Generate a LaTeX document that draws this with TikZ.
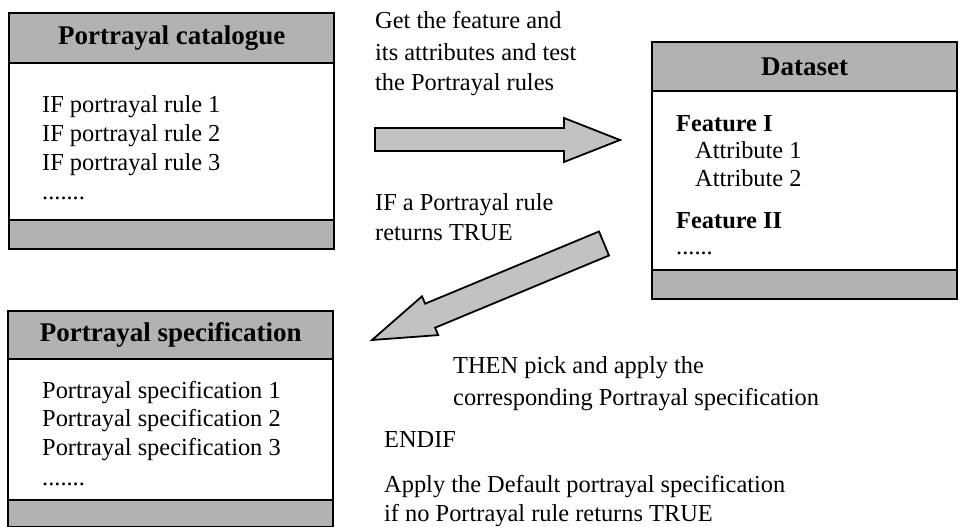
\documentclass[tikz,border=0pt]{standalone}
\usepackage{fontspec}
\setmainfont{Liberation Serif}
\definecolor{hdrgray}{gray}{0.70}
\definecolor{arrgray}{gray}{0.76}
\begin{document}
\begin{tikzpicture}[x=1pt,y=-1pt,
  body/.style={draw=black, line width=2.4pt, fill=white, inner sep=0pt, anchor=north west},
  hdr/.style={draw=black, line width=2.4pt, fill=hdrgray, inner sep=0pt, anchor=north west,
              font=\fontsize{27}{30}\selectfont\bfseries},
  band/.style={draw=black, line width=2.4pt, fill=hdrgray, inner sep=0pt, anchor=north west},
  txt/.style={inner sep=0pt, anchor=base west, font=\fontsize{24.4}{29}\selectfont},
  btxt/.style={inner sep=0pt, anchor=base west, font=\fontsize{24.4}{29}\selectfont\bfseries},
  blockarrow/.style={draw=black, line width=1.8pt, fill=arrgray, line join=miter}]
\useasboundingbox (0,0) rectangle (964,527);

% Portrayal catalogue
\node[body, minimum width=325pt, minimum height=236pt] (cat) at (8,12) {};
\node[hdr, minimum width=325pt, minimum height=50pt] (cath) at (8,12) {Portrayal catalogue};
\node[band, minimum width=325pt, minimum height=29pt] (catb) at (8,219) {};
\node[txt] (c1) at (42,112) {IF portrayal rule 1};
\node[txt] (c2) at (42,141) {IF portrayal rule 2};
\node[txt] (c3) at (42,170) {IF portrayal rule 3};
\node[txt] (c4) at (42,199) {.......};

% Dataset
\node[body, minimum width=305pt, minimum height=257pt] (ds) at (651,41) {};
\node[hdr, minimum width=305pt, minimum height=49pt] (dsh) at (651,41) {Dataset};
\node[band, minimum width=305pt, minimum height=29pt] (dsb) at (651,269) {};
\node[btxt] (d1) at (676,131) {Feature I};
\node[txt] (d2) at (695,158) {Attribute 1};
\node[txt] (d3) at (695,186) {Attribute 2};
\node[btxt] (d4) at (676,228) {Feature II};
\node[txt] (d5) at (676,254) {......};

% Portrayal specification
\node[body, minimum width=325pt, minimum height=216pt] (sp) at (7,310) {};
\node[hdr, minimum width=325pt, minimum height=48pt] (sph) at (7,310) {Portrayal specification};
\node[band, minimum width=325pt, minimum height=27pt] (spb) at (7,499) {};
\node[txt] (s1) at (42,398) {Portrayal specification 1};
\node[txt] (s2) at (42,426) {Portrayal specification 2};
\node[txt] (s3) at (42,455) {Portrayal specification 3};
\node[txt] (s4) at (42,485) {.......};

% texts
\node[txt] (t1) at (375,29) {Get the feature and};
\node[txt] (t2) at (375,60) {its attributes and test};
\node[txt] (t3) at (375,91) {the Portrayal rules};
\node[txt] (t4) at (375,210) {IF a Portrayal rule};
\node[txt] (t5) at (375,240) {returns TRUE};
\node[txt] (t6) at (453,373) {THEN pick and apply the};
\node[txt] (t7) at (453,405) {corresponding Portrayal specification};
\node[txt] (t8) at (384,447) {ENDIF};
\node[txt] (t9) at (384,492) {Apply the Default portrayal specification};
\node[txt] (t10) at (384,521) {if no Portrayal rule returns TRUE};

% block arrows
\draw[blockarrow] (375,128) -- (564,128) -- (564,118) -- (620,140) -- (564,162) -- (564,151) -- (375,151) -- cycle;
\draw[blockarrow] (609.0,255.5) -- (435.1,327.7) -- (438.2,335.1) -- (372,340) -- (422.0,296.3) -- (425.1,303.7) -- (599.0,231.5) -- cycle;
\end{tikzpicture}
\end{document}
